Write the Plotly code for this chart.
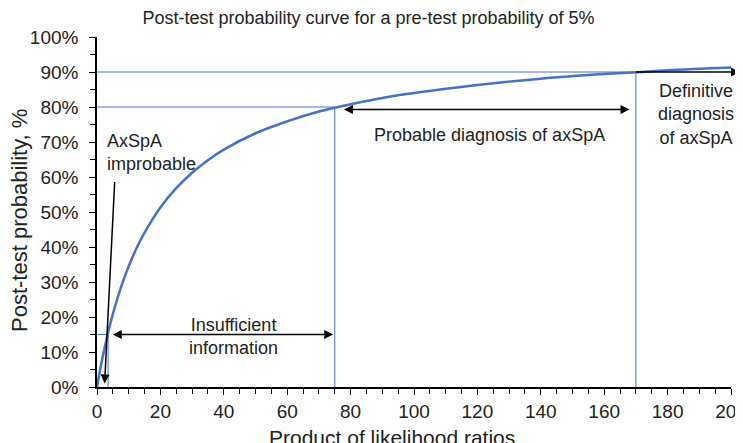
import plotly.graph_objects as go

# Curve values
lr = [0, 1, 2, 3, 4, 5, 7.5, 10, 12.5, 15, 20, 25, 30, 35, 40, 50, 60, 70, 75, 80,
      90, 100, 120, 140, 160, 170, 180, 200]
post = [0, 5.0, 9.5, 13.6, 17.4, 20.8, 28.3, 34.5, 39.7, 44.1, 51.3, 56.8, 61.2, 64.8,
        67.8, 72.5, 75.9, 78.7, 79.8, 80.8, 82.6, 84.0, 86.3, 88.1, 89.4, 89.9, 90.5, 91.3]

# Threshold guide lines (likelihood ratio, post-test probability %)
thr_lr = [3.5, 75, 170]
thr_post = [15, 80, 90]

x_ticks = list(range(0, 201, 20))
y_ticks = list(range(0, 101, 10))
y_labels = [f"{v}%" for v in y_ticks]

FONT = "Arial, Liberation Sans, sans-serif"
BLUE = "#4472C4"
TXT = "#222222"

# page has an 8px body margin: figure drawn at (8,8)
W, H = 735, 435
ML, MT, PW, PH = 89.3, 28.7, 634, 350

fig = go.Figure()
fig.add_trace(go.Scatter(x=lr, y=post, mode="lines", line=dict(color=BLUE, width=2.5, shape="spline"),
                         hoverinfo="skip", showlegend=False))

shapes = []
for lx, py in zip(thr_lr, thr_post):
    shapes.append(dict(type="line", xref="x", yref="y", x0=lx, x1=lx, y0=0, y1=py,
                       line=dict(color=BLUE, width=1), layer="below"))
    shapes.append(dict(type="line", xref="x", yref="y", x0=0, x1=lx, y0=py, y1=py,
                       line=dict(color=BLUE, width=1), layer="below"))

arrow_common = dict(xref="x", yref="y", axref="x", ayref="y", text="", showarrow=True,
                    arrowhead=2, arrowsize=1.2, arrowwidth=1.5, arrowcolor="black", standoff=0,
                    startstandoff=0, startarrowhead=2, startarrowsize=1.2)

annotations = [
    dict(x=2.4, y=1.0, ax=5.6, ay=59, arrowside="end", **arrow_common),
    dict(x=74.5, y=15, ax=4.5, ay=15, arrowside="end+start", **arrow_common),
    dict(x=168, y=79.3, ax=77.4, ay=79.3, arrowside="end+start", **arrow_common),
    dict(x=170, y=90, ax=203.3, ay=90, arrowside="start", **arrow_common),
]

tf = dict(family=FONT, size=18, color=TXT)
annotations += [
    dict(x=2.4, y=67, xref="x", yref="y", text="AxSpA<br>improbable", showarrow=False,
         xanchor="left", yanchor="middle", align="left", font=tf),
    dict(x=43.2, y=14.5, xref="x", yref="y", text="Insufficient<br>information", showarrow=False,
         xanchor="center", yanchor="middle", align="center", font=tf),
    dict(x=123.9, y=71.9, xref="x", yref="y", text="Probable diagnosis of axSpA", showarrow=False,
         xanchor="center", yanchor="middle", align="center", font=tf),
    dict(x=189, y=77.9, xref="x", yref="y", text="Definitive<br>diagnosis<br>of axSpA", showarrow=False,
         xanchor="center", yanchor="middle", align="center", font=tf),
    # x axis title
    dict(x=(392 - 97.3) / PW, y=(386.7 - 437.5) / PH, xref="paper", yref="paper",
         text="Product of likelihood ratios", showarrow=False, xanchor="center", yanchor="middle",
         font=dict(family=FONT, size=21, color=TXT)),
    # y axis title
    dict(x=(20 - 97.3) / PW, y=(386.7 - 220) / PH, xref="paper", yref="paper",
         text="Post-test probability, %", textangle=-90, showarrow=False,
         xanchor="center", yanchor="middle", font=dict(family=FONT, size=22, color=TXT)),
]

fig.update_layout(
    width=W, height=H,
    margin=dict(l=ML, r=W - ML - PW, t=MT, b=H - MT - PH, autoexpand=False),
    paper_bgcolor="white", plot_bgcolor="white",
    title=dict(text="Post-test probability curve for a pre-test probability of 5%",
               x=(368.5 - 8) / W, xref="container", y=1 - (18 - 8) / H, yref="container",
               yanchor="middle", xanchor="center",
               font=dict(family=FONT, size=18, color=TXT)),
    shapes=shapes, annotations=annotations,
    font=dict(family=FONT, color=TXT),
)

fig.update_xaxes(range=[0, 200], tickvals=x_ticks, ticks="outside", ticklen=6, tickwidth=1.3,
                 tickcolor="black", showline=True, linecolor="black", linewidth=1.5, showgrid=False,
                 zeroline=False, automargin=False, ticklabeloverflow="allow",
                 tickfont=dict(family=FONT, size=19, color=TXT),
                 minor=dict(dtick=5, ticks="outside", ticklen=5, tickwidth=1.1, tickcolor="black", showgrid=False))
fig.update_yaxes(range=[0, 100], tickvals=y_ticks, ticktext=y_labels, ticks="outside", ticklen=6,
                 tickwidth=1.3, tickcolor="black", showline=True, linecolor="black", linewidth=1.5,
                 showgrid=False, zeroline=False, automargin=False, ticklabeloverflow="allow",
                 tickfont=dict(family=FONT, size=19, color=TXT), ticklabelstandoff=7,
                 minor=dict(dtick=5, ticks="outside", ticklen=5, tickwidth=1.1, tickcolor="black", showgrid=False))

fig.write_html("out.html")
